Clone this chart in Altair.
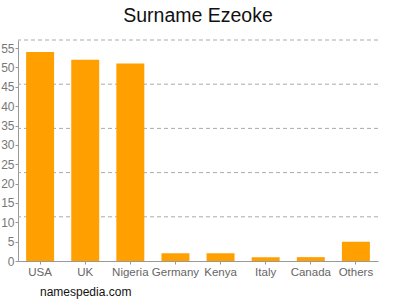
import altair as alt
import pandas as pd

countries = ["USA", "UK", "Nigeria", "Germany", "Kenya", "Italy", "Canada", "Others"]
counts = [54, 52, 51, 2, 2, 1, 1, 5]
y_ticks = [0, 5, 10, 15, 20, 25, 30, 35, 40, 45, 50, 55]
grid_levels = [11.42, 22.84, 34.26, 45.68, 57.1]
y_max = 57.1

bars_df = pd.DataFrame({"country": countries, "count": counts})
grid_df = pd.DataFrame({"level": grid_levels})

FONT = "Liberation Sans"

y_axis = alt.Axis(values=y_ticks, labelFont=FONT, labelFontSize=12,
                  labelColor="#777777", domainColor="#999999",
                  tickColor="#999999", tickSize=3, labelPadding=1,
                  labelOverlap=False, grid=False)
y_scale = alt.Scale(domain=[0, y_max], nice=False)

grid = alt.Chart(grid_df).mark_rule(color="#aaaaaa", strokeDash=[4, 3], strokeWidth=1).encode(
    y=alt.Y("level:Q", title=None, scale=y_scale, axis=y_axis),
)

bars = alt.Chart(bars_df).mark_bar(color="#FFA000").encode(
    x=alt.X("country:N", sort=countries, title=None,
            scale=alt.Scale(paddingInner=0.38, paddingOuter=0.18),
            axis=alt.Axis(labelAngle=0, labelFont=FONT, labelFontSize=11.5,
                          labelColor="#666666", domainColor="#999999",
                          tickColor="#999999", tickSize=3, labelPadding=2,
                          labelOverlap=False, grid=False)),
    y=alt.Y("count:Q", title=None, scale=y_scale, axis=y_axis),
)

footer = alt.Chart(pd.DataFrame({"t": ["namespedia.com"]})).mark_text(
    font=FONT, fontSize=12, color="#111111", align="left", baseline="middle"
).encode(text="t:N", x=alt.value(22), y=alt.value(252))

chart = alt.layer(grid, bars, footer).properties(
    width=360, height=221,
    title=alt.TitleParams("Surname Ezeoke", font=FONT, fontSize=19.5,
                          fontWeight="normal", color="#111111", offset=13,
                          anchor="middle"),
    autosize=alt.AutoSizeParams(type="none"),
    padding={"left": 18, "top": 40, "right": 22, "bottom": 39},
).configure_view(stroke=None)

chart.save("out.html", embed_options={"renderer": "svg", "actions": False})
